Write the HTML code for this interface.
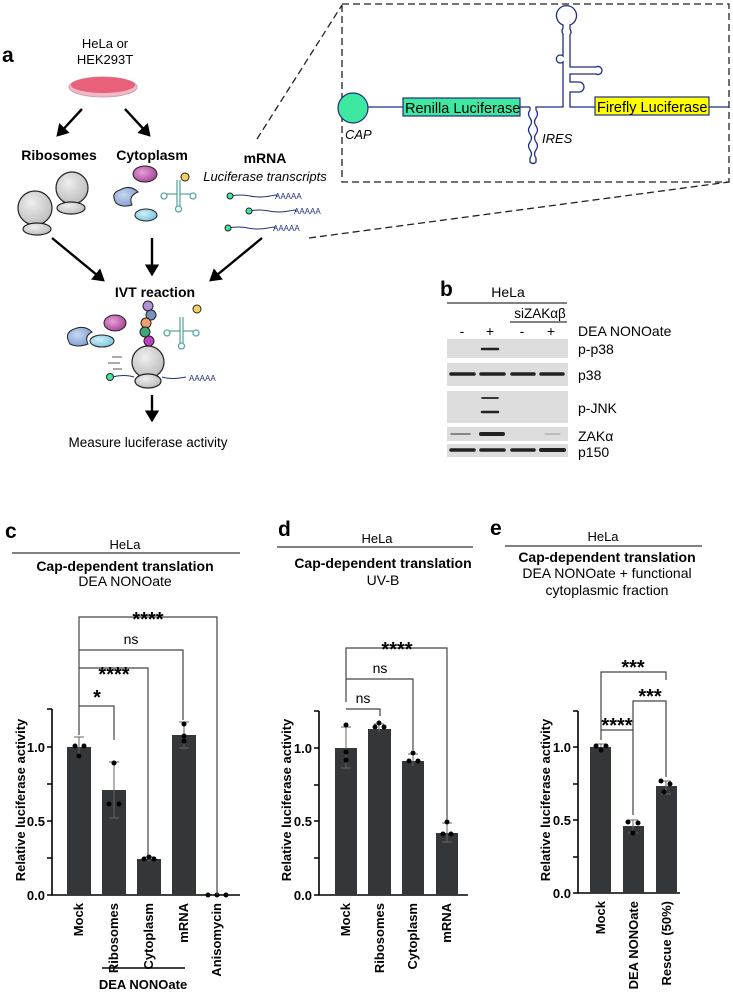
<!DOCTYPE html>
<html><head><meta charset="utf-8"><style>
html,body{margin:0;padding:0;background:#fff}
svg{display:block}
text{font-family:"Liberation Sans",Arial,sans-serif}
.b{font-weight:bold}
</style></head><body>
<svg width="733" height="1000" viewBox="0 0 733 1000" xmlns="http://www.w3.org/2000/svg">
<defs>
<marker id="ah" markerWidth="6" markerHeight="6" refX="4" refY="3" orient="auto" markerUnits="strokeWidth"><path d="M0,0 L5,3 L0,6 z" fill="#000"/></marker>
<radialGradient id="gg" cx="0.4" cy="0.35" r="0.7"><stop offset="0" stop-color="#eee"/><stop offset="1" stop-color="#bbb"/></radialGradient>
<radialGradient id="pg" cx="0.4" cy="0.4" r="0.7"><stop offset="0" stop-color="#e8a0d8"/><stop offset="1" stop-color="#a03c90"/></radialGradient>
<radialGradient id="bg" cx="0.4" cy="0.4" r="0.7"><stop offset="0" stop-color="#c8d8f0"/><stop offset="1" stop-color="#7a9ad0"/></radialGradient>
<radialGradient id="cg" cx="0.4" cy="0.4" r="0.7"><stop offset="0" stop-color="#d0f0f8"/><stop offset="1" stop-color="#70c0dc"/></radialGradient>
<g id="trna" fill="none" stroke="#5aa9a0" stroke-width="1.3">
<path d="M0,-18 L0,-4 M-3,-18 L-3,-4 M0,-4 L10,-4 M-3,-4 L-13,-4 M-3,-4 L-3,8 M0,-4 L0,8"/>
<circle cx="13" cy="-2" r="3"/><circle cx="-16" cy="-2" r="3"/><circle cx="-1.5" cy="11" r="3"/>
</g>
</defs>

<!-- Panel a -->
<text x="2" y="62" class="b" font-size="21">a</text>
<text x="105" y="48" font-size="13" text-anchor="middle">HeLa or</text>
<text x="105" y="64" font-size="13" text-anchor="middle">HEK293T</text>
<ellipse cx="103" cy="87" rx="34" ry="10" fill="#f3b8c6" stroke="#c8a0a8"/>
<ellipse cx="103" cy="85" rx="32" ry="8" fill="#e8607a"/>
<line x1="82" y1="109" x2="58" y2="135" stroke="#000" stroke-width="2.4" marker-end="url(#ah)"/>
<line x1="125" y1="109" x2="149" y2="135" stroke="#000" stroke-width="2.4" marker-end="url(#ah)"/>
<text x="59" y="160" class="b" font-size="14" text-anchor="middle">Ribosomes</text>
<text x="152" y="160" class="b" font-size="14" text-anchor="middle">Cytoplasm</text>
<circle cx="72" cy="188" r="16" fill="url(#gg)" stroke="#222" stroke-width="1.2"/>
<ellipse cx="71" cy="208" rx="14" ry="6" fill="url(#gg)" stroke="#222" stroke-width="1.2"/>
<circle cx="35" cy="208" r="17" fill="url(#gg)" stroke="#222" stroke-width="1.2"/>
<ellipse cx="37" cy="229" rx="14" ry="6" fill="url(#gg)" stroke="#222" stroke-width="1.2"/>
<ellipse cx="145" cy="174" rx="12" ry="8" fill="url(#pg)" stroke="#222"/>
<path d="M120,190 Q130,184 138,192 Q128,196 132,205 Q122,208 116,203 Q110,193 120,190 z" fill="url(#bg)" stroke="#222"/>
<ellipse cx="146" cy="215" rx="11" ry="6" fill="url(#cg)" stroke="#222"/>
<use href="#trna" x="180" y="198"/>
<circle cx="185" cy="177" r="4" fill="#f5d060" stroke="#222"/>
<text x="265" y="163" class="b" font-size="14" text-anchor="middle">mRNA</text>
<text x="265" y="181" font-size="13" font-style="italic" text-anchor="middle">Luciferase transcripts</text>
<g stroke="#1f2f80" fill="none" stroke-width="1">
<path d="M230,196 q10,-2 20,0 t20,0 t6,0"/>
<path d="M249,211 q10,-2 20,0 t20,0 t6,0"/>
<path d="M228,228 q10,-2 20,0 t20,0 t6,0"/>
</g>
<g fill="#1f2f80" font-size="8"><text x="275" y="199">AAAAA</text><text x="294" y="214">AAAAA</text><text x="273" y="231">AAAAA</text></g>
<g fill="#3ee8a0" stroke="#222"><circle cx="230" cy="196" r="3"/><circle cx="249" cy="211" r="3"/><circle cx="228" cy="228" r="3"/></g>
<line x1="52" y1="238" x2="103" y2="280" stroke="#000" stroke-width="2.4" marker-end="url(#ah)"/>
<line x1="152" y1="238" x2="152" y2="274" stroke="#000" stroke-width="2.4" marker-end="url(#ah)"/>
<line x1="262" y1="238" x2="211" y2="280" stroke="#000" stroke-width="2.4" marker-end="url(#ah)"/>
<text x="155" y="297" class="b" font-size="14" text-anchor="middle">IVT reaction</text>
<ellipse cx="115" cy="323" rx="11" ry="8" fill="url(#pg)" stroke="#222"/>
<path d="M72,330 Q84,324 92,332 Q84,336 88,344 Q78,348 70,344 Q64,334 72,330 z" fill="url(#bg)" stroke="#222"/>
<ellipse cx="102" cy="341" rx="12" ry="6" fill="url(#cg)" stroke="#222"/>
<use href="#trna" x="183" y="335"/>
<circle cx="197" cy="309" r="4" fill="#f5d060" stroke="#222"/>
<g stroke="#555" stroke-width="1"><line x1="112" y1="357" x2="122" y2="357"/><line x1="108" y1="363" x2="120" y2="363"/><line x1="113" y1="369" x2="122" y2="369"/></g>
<circle cx="148" cy="362" r="16" fill="url(#gg)" stroke="#222" stroke-width="1.2"/>
<path d="M112,377 q12,-3 22,0 M162,377 q10,3 24,0" stroke="#1f2f80" fill="none"/>
<ellipse cx="148" cy="381" rx="13" ry="7" fill="url(#gg)" stroke="#222" stroke-width="1.2"/>
<circle cx="110" cy="377" r="3.5" fill="#3ee8a0" stroke="#222"/>
<text x="189" y="381" fill="#1f2f80" font-size="8">AAAAA</text>
<circle cx="148" cy="306" r="5" fill="#b090d8" stroke="#222"/>
<circle cx="151" cy="315" r="5" fill="#7890c0" stroke="#222"/>
<circle cx="146" cy="323" r="5" fill="#f0a070" stroke="#222"/>
<circle cx="145" cy="332" r="5" fill="#40a878" stroke="#222"/>
<circle cx="149" cy="341" r="5" fill="#c040c0" stroke="#222"/>
<line x1="152" y1="395" x2="152" y2="420" stroke="#000" stroke-width="2.4" marker-end="url(#ah)"/>
<text x="148" y="447" font-size="13.5" text-anchor="middle">Measure luciferase activity</text>

<!-- zoom box -->
<g stroke="#222" stroke-width="1.3" stroke-dasharray="7,4" fill="none">
<rect x="342" y="4" width="387" height="178"/>
<line x1="257" y1="139" x2="342" y2="5"/>
<line x1="309" y1="238" x2="729" y2="182"/>
</g>
<line x1="368" y1="107" x2="403" y2="107" stroke="#1f2f80" stroke-width="1.3"/>
<circle cx="353" cy="108" r="15" fill="#3ee8a0" stroke="#1f2f80" stroke-width="1.2"/>
<text x="345" y="139" font-size="13" font-style="italic">CAP</text>
<rect x="403" y="98" width="117" height="18" fill="#3ee8a0" stroke="#1f2f80" stroke-width="1.2"/>
<text x="405" y="113" font-size="14.5">Renilla Luciferase</text>
<g stroke="#1f2f80" stroke-width="1.3" fill="none">
<line x1="520" y1="107" x2="530" y2="107"/>
<path d="M530,107 L530,110 q-3,4 0,8 q3,4 0,8 q-3,4 0,8 q3,4 0,8 q-3,4 0,8 q3,4 0,8 l0,4 q3,3 6,0 l0,-4 q-3,-4 0,-8 q3,-4 0,-8 q-3,-4 0,-8 q3,-4 0,-8 q-3,-4 0,-8 q3,-4 0,-8 l0,-3 L563,107 L563,62 a4,4 0 1 1 0,-6 L563,34 q-2,-3 0,-6 L563,25 a10,10 0 1 1 7,0 L570,29 q2,3 0,6 L570,67 L596,67 a4,4 0 1 1 0,7 L570,74 L570,82 L579,82 a5,5 0 1 1 0,10 L570,92 L570,107 L595,107"/>
</g>
<text x="542" y="143" font-size="13" font-style="italic">IRES</text>
<rect x="595" y="97" width="114" height="18" fill="#ffff00" stroke="#1f2f80" stroke-width="1.2"/>
<text x="597" y="112" font-size="14.5">Firefly Luciferase</text>
<line x1="709" y1="107" x2="729" y2="107" stroke="#1f2f80" stroke-width="1.3"/>

<!-- Panel b -->
<text x="440" y="296" class="b" font-size="21">b</text>
<text x="508" y="297" font-size="14" text-anchor="middle">HeLa</text>
<line x1="447" y1="303" x2="567" y2="303" stroke="#000"/>
<text x="540" y="318" font-size="13.5" text-anchor="middle">siZAKαβ</text>
<line x1="510" y1="322" x2="567" y2="322" stroke="#000"/>
<g font-size="14" text-anchor="middle"><text x="462" y="336">-</text><text x="490" y="336">+</text><text x="522" y="336">-</text><text x="551" y="336">+</text></g>
<g font-size="14"><text x="578" y="336">DEA NONOate</text><text x="578" y="354">p-p38</text><text x="578" y="380">p38</text><text x="578" y="413">p-JNK</text><text x="578" y="441">ZAKα</text><text x="578" y="457">p150</text></g>
<g fill="#ddd"><rect x="447" y="339" width="121" height="19"/><rect x="447" y="363" width="121" height="23"/><rect x="447" y="391" width="121" height="32"/><rect x="447" y="427" width="121" height="14"/><rect x="447" y="444" width="121" height="13"/></g>
<g stroke="#222" stroke-linecap="round">
<line x1="482" y1="349" x2="498" y2="349" stroke-width="2.5"/>
<line x1="451" y1="374" x2="474" y2="374" stroke-width="3.5"/><line x1="481" y1="374" x2="504" y2="374" stroke-width="3.5"/><line x1="512" y1="374" x2="534" y2="374" stroke-width="3.5"/><line x1="541" y1="374" x2="563" y2="374" stroke-width="3.5"/>
<line x1="482" y1="398" x2="498" y2="398" stroke-width="1.8"/><line x1="482" y1="412" x2="498" y2="412" stroke-width="2.5"/>
<line x1="451" y1="434" x2="470" y2="434" stroke-width="1.5" stroke="#666"/><line x1="481" y1="434" x2="503" y2="434" stroke-width="4"/><line x1="545" y1="434" x2="560" y2="434" stroke-width="1" stroke="#999"/>
<line x1="451" y1="450" x2="474" y2="450" stroke-width="3.5"/><line x1="481" y1="450" x2="504" y2="450" stroke-width="3.5"/><line x1="512" y1="450" x2="534" y2="450" stroke-width="3.5"/><line x1="541" y1="450" x2="564" y2="450" stroke-width="4"/>
</g>

<!-- Panel c -->
<text x="5" y="538" class="b" font-size="21">c</text>
<text x="125" y="549" font-size="13" text-anchor="middle">HeLa</text>
<line x1="12" y1="553" x2="240" y2="553" stroke="#000"/>
<text x="125" y="571" class="b" font-size="14" text-anchor="middle">Cap-dependent translation</text>
<text x="125" y="586" font-size="14" text-anchor="middle">DEA NONOate</text>
<g stroke="#000" stroke-width="1.6" fill="none">
<path d="M52,709 L52,895 L240,895"/>
<path d="M47,709 H52 M47,747 H52 M47,784 H52 M47,821 H52 M47,858 H52 M47,895 H52"/>
</g>
<g class="b" font-size="13" text-anchor="end"><text x="45" y="752">1.0</text><text x="45" y="826">0.5</text><text x="45" y="900">0.0</text></g>
<text transform="translate(25,800) rotate(-90)" class="b" font-size="13" text-anchor="middle">Relative luciferase activity</text>
<g fill="#33373a"><rect x="67" y="747" width="24" height="148"/><rect x="102" y="790" width="24" height="105"/><rect x="137" y="859" width="24" height="36"/><rect x="172" y="735" width="24" height="160"/></g>
<g stroke="#666" stroke-width="1" fill="none">
<path d="M79,757 V737 M74,737 H84 M114,818 V762 M109,762 H119 M109,818 H119 M149,862 V857 M144,857 H154 M184,748 V722 M179,722 H189 M179,748 H189"/>
</g>
<g fill="#000"><circle cx="75" cy="746" r="2.5"/><circle cx="84" cy="746" r="2.5"/><circle cx="79" cy="756" r="2.5"/><circle cx="114" cy="763" r="2.5"/><circle cx="109" cy="804" r="2.5"/><circle cx="119" cy="804" r="2.5"/><circle cx="144" cy="859" r="2.5"/><circle cx="149" cy="857" r="2.5"/><circle cx="154" cy="859" r="2.5"/><circle cx="184" cy="724" r="2.5"/><circle cx="184" cy="736" r="2.5"/><circle cx="184" cy="741" r="2.5"/><circle cx="208" cy="895" r="2.5"/><circle cx="217" cy="895" r="2.5"/><circle cx="226" cy="895" r="2.5"/></g>
<g stroke="#444" stroke-width="1.2" fill="none">
<path d="M79,735 V617 H217 V895"/>
<path d="M79,706 H114 V740"/>
<path d="M79,668 H148 V855"/>
<path d="M79,650 H183 V720"/>
</g>
<g font-size="14" text-anchor="middle"><text x="97" y="704" class="b" font-size="20">*</text><text x="114" y="681" class="b" font-size="20">****</text><text x="131" y="644">ns</text><text x="148" y="626" class="b" font-size="20">****</text></g>
<g class="b" font-size="13" text-anchor="end">
<text transform="translate(83,903) rotate(-90)">Mock</text>
<text transform="translate(118,903) rotate(-90)">Ribosomes</text>
<text transform="translate(153,903) rotate(-90)">Cytoplasm</text>
<text transform="translate(188,903) rotate(-90)">mRNA</text>
<text transform="translate(221,903) rotate(-90)">Anisomycin</text>
</g>
<line x1="102" y1="968" x2="185" y2="968" stroke="#000" stroke-width="1.5"/>
<text x="143" y="989" class="b" font-size="13" text-anchor="middle">DEA NONOate</text>

<!-- Panel d -->
<text x="278" y="536" class="b" font-size="21">d</text>
<text x="377" y="543" font-size="13" text-anchor="middle">HeLa</text>
<line x1="277" y1="547" x2="473" y2="547" stroke="#000"/>
<text x="383" y="568" class="b" font-size="14" text-anchor="middle">Cap-dependent translation</text>
<text x="383" y="585" font-size="14" text-anchor="middle">UV-B</text>
<g stroke="#000" stroke-width="1.6" fill="none">
<path d="M319,711 L319,895 L468,895"/>
<path d="M314,711 H319 M314,748 H319 M314,785 H319 M314,821 H319 M314,858 H319 M314,895 H319"/>
</g>
<g class="b" font-size="13" text-anchor="end"><text x="312" y="753">1.0</text><text x="312" y="826">0.5</text><text x="312" y="900">0.0</text></g>
<text transform="translate(291,800) rotate(-90)" class="b" font-size="13" text-anchor="middle">Relative luciferase activity</text>
<g fill="#33373a"><rect x="335" y="748" width="22" height="147"/><rect x="368" y="729" width="23" height="166"/><rect x="402" y="761" width="22" height="134"/><rect x="436" y="833" width="22" height="62"/></g>
<g stroke="#666" stroke-width="1" fill="none">
<path d="M346,768 V727 M341,727 H351 M341,768 H351 M379,732 V724 M374,724 H384 M413,766 V754 M408,754 H418 M447,842 V823 M442,823 H452 M442,842 H452"/>
</g>
<g fill="#000"><circle cx="346" cy="725" r="2.5"/><circle cx="346" cy="752" r="2.5"/><circle cx="346" cy="760" r="2.5"/><circle cx="375" cy="727" r="2.5"/><circle cx="379" cy="723" r="2.5"/><circle cx="384" cy="727" r="2.5"/><circle cx="413" cy="753" r="2.5"/><circle cx="409" cy="761" r="2.5"/><circle cx="418" cy="761" r="2.5"/><circle cx="447" cy="822" r="2.5"/><circle cx="443" cy="834" r="2.5"/><circle cx="451" cy="834" r="2.5"/></g>
<g stroke="#444" stroke-width="1.2" fill="none">
<path d="M346,702 V648 H447 V820"/>
<path d="M346,709 H380 V716"/>
<path d="M346,679 H413 V750"/>
</g>
<g font-size="14" text-anchor="middle"><text x="363" y="703">ns</text><text x="380" y="673">ns</text><text x="397" y="656" class="b" font-size="20">****</text></g>
<g class="b" font-size="13" text-anchor="end">
<text transform="translate(350,903) rotate(-90)">Mock</text>
<text transform="translate(384,903) rotate(-90)">Ribosomes</text>
<text transform="translate(417,903) rotate(-90)">Cytoplasm</text>
<text transform="translate(451,903) rotate(-90)">mRNA</text>
</g>

<!-- Panel e -->
<text x="490" y="535" class="b" font-size="21">e</text>
<text x="603" y="541" font-size="13" text-anchor="middle">HeLa</text>
<line x1="505" y1="546" x2="702" y2="546" stroke="#000"/>
<text x="607" y="562" class="b" font-size="14" text-anchor="middle">Cap-dependent translation</text>
<text x="607" y="578" font-size="14" text-anchor="middle">DEA NONOate + functional</text>
<text x="607" y="595" font-size="14" text-anchor="middle">cytoplasmic fraction</text>
<g stroke="#000" stroke-width="1.6" fill="none">
<path d="M578,711 L578,893 L680,893"/>
<path d="M573,711 H578 M573,747 H578 M573,784 H578 M573,820 H578 M573,857 H578 M573,893 H578"/>
</g>
<g class="b" font-size="13" text-anchor="end"><text x="571" y="752">1.0</text><text x="571" y="825">0.5</text><text x="571" y="898">0.0</text></g>
<text transform="translate(550,800) rotate(-90)" class="b" font-size="13" text-anchor="middle">Relative luciferase activity</text>
<g fill="#33373a"><rect x="590" y="747" width="21" height="146"/><rect x="623" y="826" width="21" height="67"/><rect x="656" y="786" width="21" height="107"/></g>
<g stroke="#666" stroke-width="1" fill="none">
<path d="M601,750 V744 M596,744 H606 M633,833 V820 M628,820 H638 M628,833 H638 M666,794 V781 M661,781 H671 M661,794 H671"/>
</g>
<g fill="#000"><circle cx="596" cy="746" r="2.5"/><circle cx="606" cy="746" r="2.5"/><circle cx="601" cy="750" r="2.5"/><circle cx="628" cy="822" r="2.5"/><circle cx="638" cy="823" r="2.5"/><circle cx="633" cy="833" r="2.5"/><circle cx="661" cy="781" r="2.5"/><circle cx="670" cy="784" r="2.5"/><circle cx="664" cy="792" r="2.5"/></g>
<g stroke="#444" stroke-width="1.2" fill="none">
<path d="M601,740 V672 H666 V680"/>
<path d="M601,730 H633 V815"/>
<path d="M633,730 V701 H666 V777"/>
</g>
<g class="b" font-size="20" text-anchor="middle"><text x="617" y="732">****</text><text x="650" y="703">***</text><text x="633" y="674">***</text></g>
<g class="b" font-size="13" text-anchor="end">
<text transform="translate(605,901) rotate(-90)">Mock</text>
<text transform="translate(638,901) rotate(-90)">DEA NONOate</text>
<text transform="translate(671,901) rotate(-90)">Rescue (50%)</text>
</g>
</svg>
</body></html>
